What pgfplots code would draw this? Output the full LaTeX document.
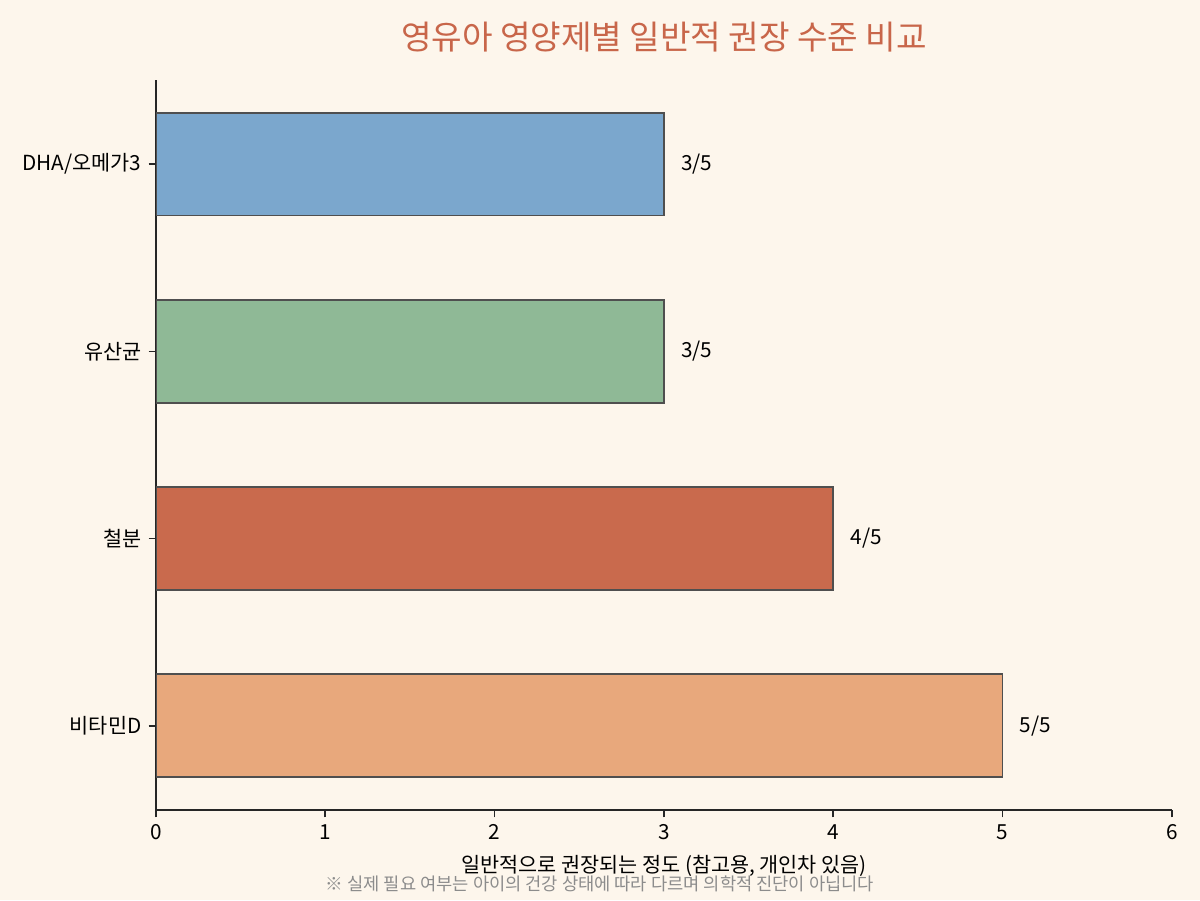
\documentclass[border=0pt]{standalone}
\usepackage{pgfplots}
\pgfplotsset{compat=1.18}
\usepackage{fontspec}
\setmainfont{Noto Sans CJK KR}
\definecolor{bgc}{HTML}{FDF6EC}
\definecolor{cblue}{HTML}{7BA7CD}
\definecolor{cgreen}{HTML}{8FB996}
\definecolor{cred}{HTML}{C96A4D}
\definecolor{corange}{HTML}{E8A87C}
\definecolor{ctitle}{HTML}{C8664A}
\definecolor{cedge}{HTML}{4F4F4F}
\definecolor{cfoot}{HTML}{8C8C8C}
\begin{document}
\begin{tikzpicture}
\fill[bgc] (0,0) rectangle (8in,6in);
\begin{axis}[
  at={(1.04in,0.6in)}, anchor=south west,
  scale only axis, width=6.773in, height=4.867in,
  xmin=0, xmax=6, ymin=-0.45, ymax=3.45,
  xbar, bar width=0.55,
  axis x line*=bottom, axis y line*=left,
  axis line style={line width=0.8pt, black!85},
  x axis line style={-}, y axis line style={-},
  xtick={0,1,2,3,4,5,6},
  ytick={0,1,2,3},
  yticklabels={비타민D, 철분, 유산균, DHA/오메가3},
  tick align=outside, major tick length=3.5pt,
  tick style={line width=0.8pt, black!85},
  ticklabel style={font=\fontsize{10}{12}\selectfont},
  /pgf/number format/assume math mode=true,
  xlabel={일반적으로 권장되는 정도 (참고용, 개인차 있음)},
  xlabel style={font=\fontsize{10}{12}\selectfont, yshift=-0.5pt},
  nodes near coords={\pgfmathprintnumber{\pgfplotspointmeta}/5},
  point meta=x,
  every node near coord/.append style={anchor=west, xshift=0.063in, font=\fontsize{10}{12}\selectfont, /pgf/number format/assume math mode=true},
  axis background/.style={fill=bgc},
]
\addplot[fill=corange, draw=cedge, line width=0.8pt, bar shift=0pt] coordinates {(5,0)};
\addplot[fill=cred, draw=cedge, line width=0.8pt, bar shift=0pt] coordinates {(4,1)};
\addplot[fill=cgreen, draw=cedge, line width=0.8pt, bar shift=0pt] coordinates {(3,2)};
\addplot[fill=cblue, draw=cedge, line width=0.8pt, bar shift=0pt] coordinates {(3,3)};
\end{axis}
\node[font=\fontsize{16}{19}\selectfont, text=ctitle] at (4.427in, 5.753in) {영유아 영양제별 일반적 권장 수준 비교};
\node[font=\fontsize{8.5}{10}\selectfont, text=cfoot] at (4in, 0.107in) {※ 실제 필요 여부는 아이의 건강 상태에 따라 다르며 의학적 진단이 아닙니다};
\end{tikzpicture}
\end{document}
